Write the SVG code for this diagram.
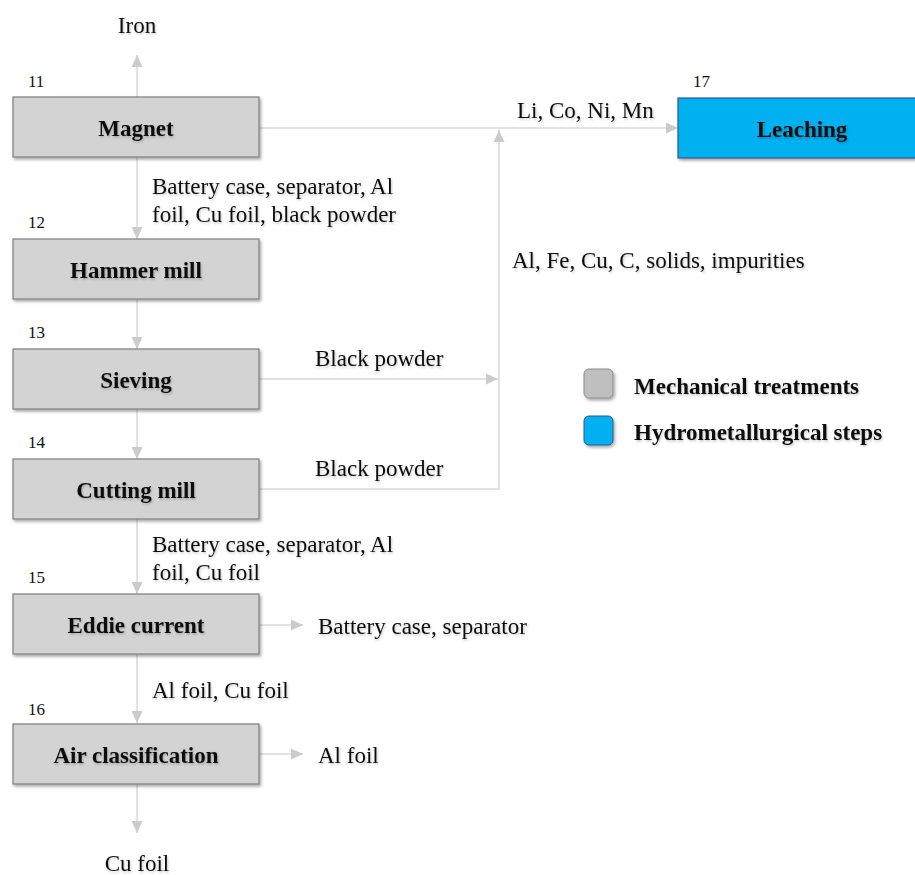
<svg xmlns="http://www.w3.org/2000/svg" width="915" height="875" viewBox="0 0 915 875">
  <defs>
    <filter id="shadow" x="-10%" y="-20%" width="130%" height="150%">
      <feDropShadow dx="1.5" dy="2" stdDeviation="1.5" flood-color="#000" flood-opacity="0.35"/>
    </filter>
    <filter id="tshadow" x="-5%" y="-30%" width="110%" height="160%">
      <feDropShadow dx="1" dy="1.5" stdDeviation="1.2" flood-color="#000" flood-opacity="0.22"/>
    </filter>
    <marker id="arrow" markerUnits="userSpaceOnUse" markerWidth="13" markerHeight="11" refX="12" refY="5.5" orient="auto">
      <path d="M0,0 L12,5.5 L0,11 Z" fill="#cbcbcb"/>
    </marker>
  </defs>
  <style>
    .box { fill: #d3d3d3; stroke: #7f7f7f; stroke-width: 1.2; filter: url(#shadow); }
    .hydro { fill: #00b0f0; stroke: #2f5c8f; stroke-width: 1.2; filter: url(#shadow); }
    .title { font-family: "Liberation Serif", "Times New Roman", serif; font-size: 23px; font-weight: bold; fill: #111; text-anchor: middle; filter: url(#tshadow); }
    .lbl { font-family: "Liberation Serif", "Times New Roman", serif; font-size: 23px; fill: #111; filter: url(#tshadow); }
    .num { font-family: "Liberation Serif", "Times New Roman", serif; font-size: 17px; fill: #111; }
    .leg { font-family: "Liberation Serif", "Times New Roman", serif; font-size: 23px; font-weight: bold; fill: #111; filter: url(#tshadow); }
    .conn { fill: none; stroke: #d9d9d9; stroke-width: 1.5; }
  </style>
  <rect width="915" height="875" fill="#fff"/>

  <!-- connectors -->
  <g id="connectors">
    <line class="conn" x1="137" y1="97" x2="137" y2="55" marker-end="url(#arrow)"/>
    <line class="conn" x1="259" y1="128" x2="678" y2="128" marker-end="url(#arrow)"/>
    <line class="conn" x1="137" y1="157" x2="137" y2="239" marker-end="url(#arrow)"/>
    <line class="conn" x1="137" y1="299" x2="137" y2="349" marker-end="url(#arrow)"/>
    <line class="conn" x1="259" y1="379" x2="498" y2="379" marker-end="url(#arrow)"/>
    <line class="conn" x1="137" y1="409" x2="137" y2="459" marker-end="url(#arrow)"/>
    <path class="conn" d="M259,489 H499 V130" marker-end="url(#arrow)"/>
    <line class="conn" x1="137" y1="519" x2="137" y2="594" marker-end="url(#arrow)"/>
    <line class="conn" x1="259" y1="625" x2="303" y2="625" marker-end="url(#arrow)"/>
    <line class="conn" x1="137" y1="654" x2="137" y2="723" marker-end="url(#arrow)"/>
    <line class="conn" x1="259" y1="754" x2="303" y2="754" marker-end="url(#arrow)"/>
    <line class="conn" x1="137" y1="784" x2="137" y2="833" marker-end="url(#arrow)"/>
  </g>

  <!-- flow labels -->
  <g id="flow-labels">
    <text class="lbl" x="137" y="33" text-anchor="middle">Iron</text>
    <text class="lbl" x="152" y="194">Battery case, separator, Al</text>
    <text class="lbl" x="152" y="222">foil, Cu foil, black powder</text>
    <text class="lbl" x="517" y="118">Li, Co, Ni, Mn</text>
    <text class="lbl" x="512" y="268">Al, Fe, Cu, C, solids, impurities</text>
    <text class="lbl" x="315" y="366">Black powder</text>
    <text class="lbl" x="315" y="476">Black powder</text>
    <text class="lbl" x="152" y="552">Battery case, separator, Al</text>
    <text class="lbl" x="152" y="580">foil, Cu foil</text>
    <text class="lbl" x="318" y="634">Battery case, separator</text>
    <text class="lbl" x="152" y="698">Al foil, Cu foil</text>
    <text class="lbl" x="318" y="763">Al foil</text>
    <text class="lbl" x="137" y="871" text-anchor="middle">Cu foil</text>
  </g>

  <!-- process steps -->
  <g id="magnet">
    <text class="num" x="28" y="87">11</text>
    <rect class="box" x="13" y="97" width="246" height="60"/>
    <text class="title" x="136" y="136">Magnet</text>
  </g>
  <g id="hammer-mill">
    <text class="num" x="28" y="228">12</text>
    <rect class="box" x="13" y="239" width="246" height="60"/>
    <text class="title" x="136" y="278">Hammer mill</text>
  </g>
  <g id="sieving">
    <text class="num" x="28" y="338">13</text>
    <rect class="box" x="13" y="349" width="246" height="60"/>
    <text class="title" x="136" y="388">Sieving</text>
  </g>
  <g id="cutting-mill">
    <text class="num" x="28" y="448">14</text>
    <rect class="box" x="13" y="459" width="246" height="60"/>
    <text class="title" x="136" y="498">Cutting mill</text>
  </g>
  <g id="eddie-current">
    <text class="num" x="28" y="583">15</text>
    <rect class="box" x="13" y="594" width="246" height="60"/>
    <text class="title" x="136" y="633">Eddie current</text>
  </g>
  <g id="air-classification">
    <text class="num" x="28" y="715">16</text>
    <rect class="box" x="13" y="724" width="246" height="60"/>
    <text class="title" x="136" y="763">Air classification</text>
  </g>
  <g id="leaching">
    <text class="num" x="693" y="87">17</text>
    <rect class="hydro" x="678" y="98" width="250" height="60"/>
    <text class="title" x="802" y="137">Leaching</text>
  </g>

  <!-- legend -->
  <g id="legend">
    <rect x="584" y="369" width="29" height="29" rx="5" fill="#bfbfbf" stroke="#8c8c8c" stroke-width="1" filter="url(#shadow)"/>
    <text class="leg" x="634" y="394">Mechanical treatments</text>
    <rect x="584" y="416" width="29" height="29" rx="5" fill="#00b0f0" stroke="#2f5c8f" stroke-width="1" filter="url(#shadow)"/>
    <text class="leg" x="634" y="440">Hydrometallurgical steps</text>
  </g>
</svg>
